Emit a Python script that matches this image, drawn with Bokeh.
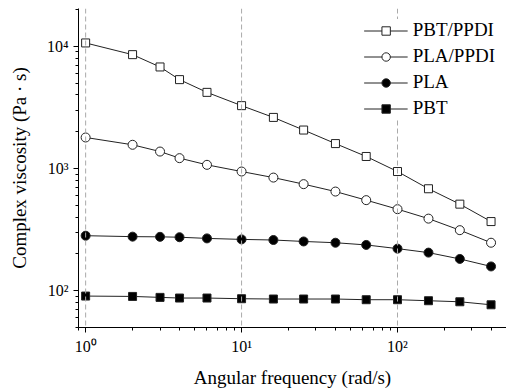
from bokeh.plotting import figure
from bokeh.models import Span, LogTicker
from bokeh.embed import file_html
from bokeh.resources import INLINE

freq = [1, 2, 3, 4, 6, 10, 16, 25, 40, 63, 100, 158, 251, 398]
pbt_ppdi = [10660, 8550, 6780, 5340, 4200, 3270, 2620, 2065, 1600, 1255, 945, 683, 511, 368]
pla_ppdi = [1795, 1564, 1377, 1216, 1072, 945, 843, 745, 648, 551, 465, 389, 313, 247]
pla = [282, 277, 276, 274, 268, 263, 260, 253, 247, 237, 221, 205, 182, 158]
pbt = [90.4, 89.8, 88.2, 87.1, 87.1, 86, 85.5, 85.5, 85.5, 84.4, 84.4, 82.8, 81.2, 76.7]

x_ticks = [1, 10, 100]
x_tick_labels = ["10\u2070", "10\u00b9", "10\u00b2"]
y_ticks = [100, 1000, 10000]
y_tick_labels = ["10\u00b2", "10\u00b3", "10\u2074"]
grid_x = [1, 10, 100]

FONT = "Liberation Serif"

p = figure(width=506, height=392, x_axis_type="log", y_axis_type="log",
           x_range=(0.9, 500), y_range=(50, 20400),
           output_backend="svg", toolbar_location=None,
           min_border_left=78, min_border_right=0, min_border_top=8, min_border_bottom=65)
p.outline_line_color = None
p.xgrid.visible = False
p.ygrid.visible = False
p.background_fill_color = "white"

for gx in grid_x:
    p.add_layout(Span(location=gx, dimension="height", line_color="#aaaaaa",
                      line_width=1, line_dash="5 3"))

series = [
    ("PBT/PPDI", pbt_ppdi, "square", "white"),
    ("PLA/PPDI", pla_ppdi, "circle", "white"),
    ("PLA", pla, "circle", "black"),
    ("PBT", pbt, "square", "black"),
]
for name, vals, marker, fill in series:
    p.line(freq, vals, line_color="#222222", line_width=1, legend_label=name)
    p.scatter(freq, vals, marker=marker, size=9 if marker == "circle" else 8,
              fill_color=fill, line_color="#222222", line_width=1, legend_label=name)

for ax, ticks, labels in ((p.xaxis[0], x_ticks, x_tick_labels), (p.yaxis[0], y_ticks, y_tick_labels)):
    ax.ticker = LogTicker(num_minor_ticks=10)
    ax.major_label_overrides = {t: l for t, l in zip(ticks, labels)}
    ax.axis_line_color = "black"
    ax.major_tick_line_color = "black"
    ax.minor_tick_line_color = "black"
    ax.major_tick_out = 5
    ax.major_tick_in = 0
    ax.minor_tick_out = 3
    ax.minor_tick_in = 0
    ax.major_label_text_font = FONT
    ax.major_label_text_font_size = "16px"
    ax.major_label_text_color = "black"
    ax.axis_label_text_font = FONT
    ax.axis_label_text_font_size = "19px"
    ax.axis_label_text_font_style = "normal"
    ax.axis_label_text_color = "black"

p.xaxis.axis_label = "Angular frequency (rad/s)"
p.yaxis.axis_label = "Complex viscosity (Pa \u00b7 s)"
p.xaxis.major_label_standoff = 5
p.yaxis.major_label_standoff = 5
p.xaxis.axis_label_standoff = 9
p.yaxis.axis_label_standoff = 14

lg = p.legend[0]
lg.location = "top_right"
lg.label_text_font = FONT
lg.label_text_font_size = "19px"
lg.label_text_color = "black"
lg.border_line_color = None
lg.background_fill_color = "white"
lg.background_fill_alpha = 1.0
lg.glyph_width = 44
lg.glyph_height = 21
lg.label_height = 21
lg.label_standoff = 5
lg.spacing = 4
lg.padding = 4
lg.margin = 11

open("out.html", "w").write(file_html(p, INLINE))
